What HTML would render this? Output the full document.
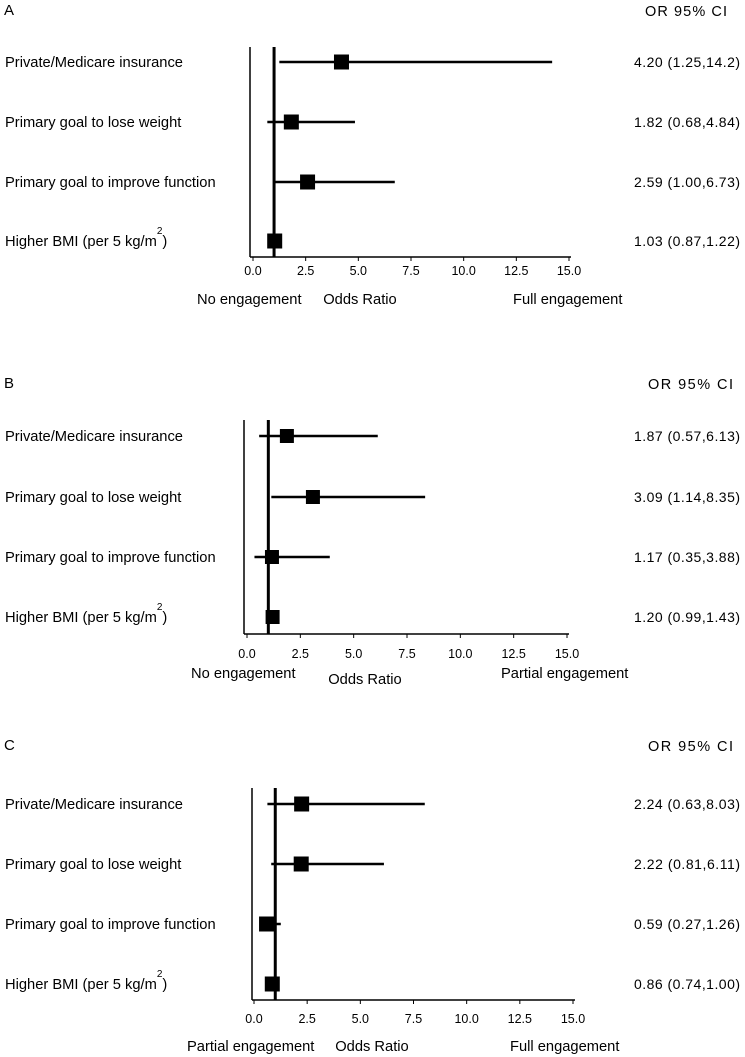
<!DOCTYPE html>
<html><head><meta charset="utf-8"><style>
body{margin:0;background:#fff;}
svg{display:block;font-family:"Liberation Sans","DejaVu Sans",sans-serif;}
</style></head><body>
<svg id="fig" width="745" height="1057" xmlns="http://www.w3.org/2000/svg"></svg>
<script>
const labels = ["Private/Medicare insurance","Primary goal to lose weight","Primary goal to improve function","Higher BMI (per 5 kg/m"];
const tickVals = [0,2.5,5,7.5,10,12.5,15];
const tickLabels = ["0.0","2.5","5.0","7.5","10.0","12.5","15.0"];
const orA = [4.20,1.82,2.59,1.03], loA = [1.25,0.68,1.00,0.87], hiA = [14.2,4.84,6.73,1.22];
const orB = [1.87,3.09,1.17,1.20], loB = [0.57,1.14,0.35,0.99], hiB = [6.13,8.35,3.88,1.43];
const orC = [2.24,2.22,0.59,0.86], loC = [0.63,0.81,0.27,0.74], hiC = [8.03,6.11,1.26,1.00];
const panelTitles = ["A","B","C"];
const leftLabels = ["No engagement","No engagement","Partial engagement"];
const rightLabels = ["Full engagement","Partial engagement","Full engagement"];

const NS="http://www.w3.org/2000/svg";
const svg=document.getElementById('fig');
function mk(tag,attrs,parent){const e=document.createElementNS(NS,tag);for(const k in attrs)e.setAttribute(k,attrs[k]);(parent||svg).appendChild(e);return e;}
function txt(s,x,y,size,anchor,parent){const t=mk('text',{x:x,y:y,'font-size':size,'text-anchor':anchor||'start',fill:'#000'},parent);t.textContent=s;return t;}

const layouts=[
 {top:47,bottom:257,axL:250,x0:253,x15:569,rows:[62,122,182,241],titleY:15,tickY:275,lowY:304,orX:645,orW:82,sq:15,leftLX:197,midX:360,rightLX:513},
 {top:420,bottom:634,axL:244,x0:247,x15:567,rows:[436,497,557,617],titleY:388,tickY:658,lowY:678,orX:648,orW:85,sq:14,leftLX:191,midX:365,rightLX:501},
 {top:788,bottom:1000,axL:252,x0:254,x15:573,rows:[804,864,924,984],titleY:750,tickY:1023,lowY:1051,orX:648,orW:85,sq:15,leftLX:187,midX:372,rightLX:510}
];
const data=[[orA,loA,hiA],[orB,loB,hiB],[orC,loC,hiC]];

layouts.forEach((L,p)=>{
  const g=mk('g',{});
  
  
  const xs=v=>L.x0+(L.x15-L.x0)*v/15;
  const t=txt(panelTitles[p],4,L.titleY,15,'start',g);
  
  
  const h=txt('OR  95% CI',L.orX,L.titleY+1,14.5,'start',g);
  h.setAttribute('textLength',L.orW);
  
  
  const ya=mk('line',{x1:L.axL,y1:L.top,x2:L.axL,y2:L.bottom,stroke:'#000','stroke-width':1.5},g);
  
  
  const xa=mk('line',{x1:L.axL,y1:L.bottom,x2:xs(15)+2,y2:L.bottom,stroke:'#000','stroke-width':1.5},g);
  
  
  tickVals.forEach((v,i)=>{
    mk('line',{x1:xs(v),y1:L.bottom,x2:xs(v),y2:L.bottom+4,stroke:'#000','stroke-width':1},g);
    const tl=txt(tickLabels[i],xs(v),L.tickY,12.5,'middle',g);
    
    
  });
  const rl=mk('line',{x1:xs(1),y1:L.top,x2:xs(1),y2:L.bottom,stroke:'#000','stroke-width':3},g);
  
  
  const [or,lo,hi]=data[p];
  labels.forEach((lab,i)=>{
    const y=L.rows[i];
    const lt=txt(lab,5,y+5,14.7,'start',g);
    
    
    if(i===3){const s=mk('tspan',{'font-size':10,dy:-12},lt);s.textContent='2';const s2=mk('tspan',{dy:12},lt);s2.textContent=')';}
    const ci=mk('line',{x1:xs(lo[i]),y1:y,x2:xs(hi[i]),y2:y,stroke:'#000','stroke-width':2.5},g);
    
    
    const sq=mk('rect',{x:xs(or[i])-L.sq/2,y:y-L.sq/2,width:L.sq,height:L.sq,fill:'#000'},g);
    
    
    const hs=v=>v.toFixed(2);
    const hiS = hi[i]>=10? hi[i].toFixed(1): hs(hi[i]);
    const vt=txt(hs(or[i])+' ('+hs(lo[i])+','+hiS+')',740,y+5,14,'end',g);
    vt.setAttribute('textLength',106);
    
    
  });
  const a=txt(leftLabels[p],L.leftLX,L.lowY,14.7,'start',g);
  
  
  const m=txt('Odds Ratio',L.midX,L.lowY+(p===1?6:0),14.7,'middle',g);
  
  
  const r=txt(rightLabels[p],L.rightLX,L.lowY,14.7,'start',g);
  
  
});
</script>
</body></html>
